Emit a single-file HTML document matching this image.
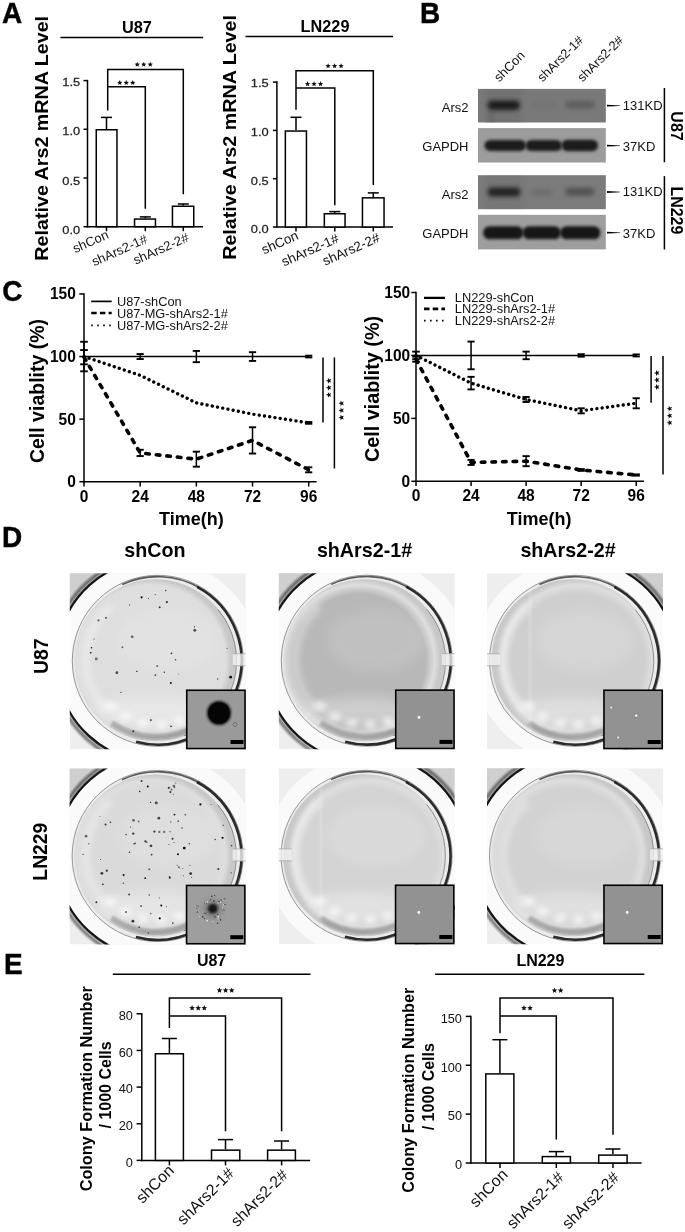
<!DOCTYPE html>
<html><head><meta charset="utf-8"><style>
html,body{margin:0;padding:0;background:#fff;}
svg{display:block;will-change:transform;}
text{font-family:"Liberation Sans",sans-serif;}
</style></head><body>
<svg width="685" height="1232" viewBox="0 0 685 1232">
<rect width="685" height="1232" fill="#fff"/>
<text transform="translate(2,23.2) scale(1,1.08)" font-size="28" font-weight="bold" text-anchor="start" fill="#000" stroke="#000" stroke-width="0.4">A</text>
<text x="136.9" y="32.5" font-size="16.3" font-weight="bold" text-anchor="middle" fill="#000" >U87</text>
<line x1="60.4" y1="37.4" x2="203.2" y2="37.4" stroke="#000" stroke-width="1.5" />
<text transform="translate(47.7,138.3) rotate(-90) scale(1.037,1)" font-size="19" font-weight="bold" text-anchor="middle" fill="#000" >Relative Ars2 mRNA Level</text>
<line x1="87.5" y1="79.85" x2="87.5" y2="227.45" stroke="#000" stroke-width="1.5" />
<line x1="83.5" y1="226.7" x2="87.5" y2="226.7" stroke="#000" stroke-width="1.5" />
<text transform="translate(80.2,233.65) scale(1.09,1)" font-size="11.8" font-weight="normal" text-anchor="end" fill="#222" stroke="#222" stroke-width="0.25">0.0</text>
<line x1="83.5" y1="178" x2="87.5" y2="178" stroke="#000" stroke-width="1.5" />
<text transform="translate(80.2,185.1) scale(1.09,1)" font-size="11.8" font-weight="normal" text-anchor="end" fill="#222" stroke="#222" stroke-width="0.25">0.5</text>
<line x1="83.5" y1="129.3" x2="87.5" y2="129.3" stroke="#000" stroke-width="1.5" />
<text transform="translate(80.2,134.95) scale(1.09,1)" font-size="11.8" font-weight="normal" text-anchor="end" fill="#222" stroke="#222" stroke-width="0.25">1.0</text>
<line x1="83.5" y1="80.6" x2="87.5" y2="80.6" stroke="#000" stroke-width="1.5" />
<text transform="translate(80.2,86.15) scale(1.09,1)" font-size="11.8" font-weight="normal" text-anchor="end" fill="#222" stroke="#222" stroke-width="0.25">1.5</text>
<line x1="86.75" y1="226.7" x2="203" y2="226.7" stroke="#000" stroke-width="1.5" />
<line x1="106.5" y1="226.7" x2="106.5" y2="231.2" stroke="#000" stroke-width="1.5" />
<line x1="145.3" y1="226.7" x2="145.3" y2="231.2" stroke="#000" stroke-width="1.5" />
<line x1="183.3" y1="226.7" x2="183.3" y2="231.2" stroke="#000" stroke-width="1.5" />
<rect x="96.25" y="129.75" width="20.7" height="96.95" fill="#fff" stroke="#000" stroke-width="1.5"/>
<rect x="134.55" y="219.05" width="20.9" height="7.65" fill="#fff" stroke="#000" stroke-width="1.5"/>
<rect x="172.45" y="206.25" width="21.3" height="20.45" fill="#fff" stroke="#000" stroke-width="1.5"/>
<line x1="106.5" y1="129" x2="106.5" y2="117.4" stroke="#000" stroke-width="1.5" />
<line x1="101" y1="117.4" x2="112" y2="117.4" stroke="#000" stroke-width="1.5" />
<line x1="145.3" y1="218.3" x2="145.3" y2="216.9" stroke="#000" stroke-width="1.5" />
<line x1="139.8" y1="216.9" x2="150.8" y2="216.9" stroke="#000" stroke-width="1.5" />
<line x1="183.3" y1="205.5" x2="183.3" y2="204" stroke="#000" stroke-width="1.5" />
<line x1="177.8" y1="204" x2="188.8" y2="204" stroke="#000" stroke-width="1.5" />
<polyline points="107.7,110.4 107.7,69.6 183.3,69.6 183.3,194.3" fill="none" stroke="#000" stroke-width="1.5" />
<polyline points="107.7,86.7 145.3,86.7 145.3,208.8" fill="none" stroke="#000" stroke-width="1.5" />
<polygon points="119.75,80 120.49,81.78 122.41,81.93 120.95,83.19 121.4,85.07 119.75,84.06 118.1,85.07 118.55,83.19 117.09,81.93 119.01,81.78" fill="#111"/>
<polygon points="126.25,80 126.99,81.78 128.91,81.93 127.45,83.19 127.9,85.07 126.25,84.06 124.6,85.07 125.05,83.19 123.59,81.93 125.51,81.78" fill="#111"/>
<polygon points="132.75,80 133.49,81.78 135.41,81.93 133.95,83.19 134.4,85.07 132.75,84.06 131.1,85.07 131.55,83.19 130.09,81.93 132.01,81.78" fill="#111"/>
<polygon points="137.25,61.8 137.99,63.58 139.91,63.73 138.45,64.99 138.9,66.87 137.25,65.86 135.6,66.87 136.05,64.99 134.59,63.73 136.51,63.58" fill="#111"/>
<polygon points="143.75,61.8 144.49,63.58 146.41,63.73 144.95,64.99 145.4,66.87 143.75,65.86 142.1,66.87 142.55,64.99 141.09,63.73 143.01,63.58" fill="#111"/>
<polygon points="150.25,61.8 150.99,63.58 152.91,63.73 151.45,64.99 151.9,66.87 150.25,65.86 148.6,66.87 149.05,64.99 147.59,63.73 149.51,63.58" fill="#111"/>
<text transform="translate(109.5,237.9) rotate(-24)" font-size="13" font-weight="normal" text-anchor="end" fill="#111" >shCon</text>
<text transform="translate(148.3,242.2) rotate(-24)" font-size="13" font-weight="normal" text-anchor="end" fill="#111" >shArs2-1#</text>
<text transform="translate(189.8,240.7) rotate(-24)" font-size="13" font-weight="normal" text-anchor="end" fill="#111" >shArs2-2#</text>
<text x="325" y="31.6" font-size="16.3" font-weight="bold" text-anchor="middle" fill="#000" >LN229</text>
<line x1="245.5" y1="36.6" x2="393" y2="36.6" stroke="#000" stroke-width="1.5" />
<text transform="translate(236,137.4) rotate(-90) scale(1.037,1)" font-size="19" font-weight="bold" text-anchor="middle" fill="#000" >Relative Ars2 mRNA Level</text>
<line x1="276.9" y1="81.35" x2="276.9" y2="227.75" stroke="#000" stroke-width="1.5" />
<line x1="272.9" y1="227" x2="276.9" y2="227" stroke="#000" stroke-width="1.5" />
<text transform="translate(268.7,232.85) scale(1.09,1)" font-size="11.8" font-weight="normal" text-anchor="end" fill="#222" stroke="#222" stroke-width="0.25">0.0</text>
<line x1="272.9" y1="178.7" x2="276.9" y2="178.7" stroke="#000" stroke-width="1.5" />
<text transform="translate(268.7,184.85) scale(1.09,1)" font-size="11.8" font-weight="normal" text-anchor="end" fill="#222" stroke="#222" stroke-width="0.25">0.5</text>
<line x1="272.9" y1="130.4" x2="276.9" y2="130.4" stroke="#000" stroke-width="1.5" />
<text transform="translate(268.7,135.75) scale(1.09,1)" font-size="11.8" font-weight="normal" text-anchor="end" fill="#222" stroke="#222" stroke-width="0.25">1.0</text>
<line x1="272.9" y1="82.1" x2="276.9" y2="82.1" stroke="#000" stroke-width="1.5" />
<text transform="translate(268.7,87.05) scale(1.09,1)" font-size="11.8" font-weight="normal" text-anchor="end" fill="#222" stroke="#222" stroke-width="0.25">1.5</text>
<line x1="276.15" y1="227" x2="393" y2="227" stroke="#000" stroke-width="1.5" />
<line x1="296" y1="227" x2="296" y2="231.5" stroke="#000" stroke-width="1.5" />
<line x1="334.8" y1="227" x2="334.8" y2="231.5" stroke="#000" stroke-width="1.5" />
<line x1="373.3" y1="227" x2="373.3" y2="231.5" stroke="#000" stroke-width="1.5" />
<rect x="285.35" y="131.05" width="21.1" height="95.95" fill="#fff" stroke="#000" stroke-width="1.5"/>
<rect x="324.35" y="213.75" width="20.7" height="13.25" fill="#fff" stroke="#000" stroke-width="1.5"/>
<rect x="362.45" y="197.85" width="21.6" height="29.15" fill="#fff" stroke="#000" stroke-width="1.5"/>
<line x1="296" y1="130.3" x2="296" y2="117.3" stroke="#000" stroke-width="1.5" />
<line x1="290.5" y1="117.3" x2="301.5" y2="117.3" stroke="#000" stroke-width="1.5" />
<line x1="334.8" y1="213" x2="334.8" y2="211.6" stroke="#000" stroke-width="1.5" />
<line x1="329.3" y1="211.6" x2="340.3" y2="211.6" stroke="#000" stroke-width="1.5" />
<line x1="373.3" y1="197.1" x2="373.3" y2="192.9" stroke="#000" stroke-width="1.5" />
<line x1="367.8" y1="192.9" x2="378.8" y2="192.9" stroke="#000" stroke-width="1.5" />
<polyline points="296,109.8 296,70.8 373.3,70.8 373.3,185" fill="none" stroke="#000" stroke-width="1.5" />
<polyline points="296,88 334.8,88 334.8,205.3" fill="none" stroke="#000" stroke-width="1.5" />
<polygon points="307.55,81.1 308.29,82.88 310.21,83.03 308.75,84.29 309.2,86.17 307.55,85.16 305.9,86.17 306.35,84.29 304.89,83.03 306.81,82.88" fill="#111"/>
<polygon points="314.05,81.1 314.79,82.88 316.71,83.03 315.25,84.29 315.7,86.17 314.05,85.16 312.4,86.17 312.85,84.29 311.39,83.03 313.31,82.88" fill="#111"/>
<polygon points="320.55,81.1 321.29,82.88 323.21,83.03 321.75,84.29 322.2,86.17 320.55,85.16 318.9,86.17 319.35,84.29 317.89,83.03 319.81,82.88" fill="#111"/>
<polygon points="328.1,63.2 328.84,64.98 330.76,65.13 329.3,66.39 329.75,68.27 328.1,67.26 326.45,68.27 326.9,66.39 325.44,65.13 327.36,64.98" fill="#111"/>
<polygon points="334.6,63.2 335.34,64.98 337.26,65.13 335.8,66.39 336.25,68.27 334.6,67.26 332.95,68.27 333.4,66.39 331.94,65.13 333.86,64.98" fill="#111"/>
<polygon points="341.1,63.2 341.84,64.98 343.76,65.13 342.3,66.39 342.75,68.27 341.1,67.26 339.45,68.27 339.9,66.39 338.44,65.13 340.36,64.98" fill="#111"/>
<text transform="translate(299.4,238.8) rotate(-24)" font-size="13.4" font-weight="normal" text-anchor="end" fill="#111" >shCon</text>
<text transform="translate(339.8,241.6) rotate(-24)" font-size="13.4" font-weight="normal" text-anchor="end" fill="#111" >shArs2-1#</text>
<text transform="translate(380.8,241) rotate(-24)" font-size="13.4" font-weight="normal" text-anchor="end" fill="#111" >shArs2-2#</text>
<text transform="translate(420,22.9) scale(1,1.08)" font-size="28" font-weight="bold" text-anchor="start" fill="#000" stroke="#000" stroke-width="0.4">B</text>
<text transform="translate(499.3,82.6) rotate(-45)" font-size="12.9" font-weight="normal" text-anchor="start" fill="#111" >shCon</text>
<text transform="translate(542.5,82.6) rotate(-45)" font-size="12.9" font-weight="normal" text-anchor="start" fill="#111" >shArs2-1#</text>
<text transform="translate(582.5,82.6) rotate(-45)" font-size="12.9" font-weight="normal" text-anchor="start" fill="#111" >shArs2-2#</text>
<defs><filter id="bl" x="-50%" y="-80%" width="200%" height="260%"><feGaussianBlur stdDeviation="2.2"/></filter><filter id="bl2" x="-50%" y="-80%" width="200%" height="260%"><feGaussianBlur stdDeviation="1.4"/></filter><filter id="bl3" x="-50%" y="-80%" width="200%" height="260%"><feGaussianBlur stdDeviation="1.9"/></filter></defs>
<rect x="478" y="88.9" width="127.8" height="33.6" fill="#797979"/>
<rect x="478" y="128.1" width="127.8" height="34.4" fill="#9c9c9c"/>
<rect x="478" y="175.2" width="127.8" height="34" fill="#7b7b7b"/>
<rect x="478" y="214.8" width="127.8" height="34.6" fill="#9e9e9e"/>
<clipPath id="cb1"><rect x="478" y="88.9" width="127.8" height="33.6"/></clipPath><clipPath id="cb3"><rect x="478" y="175.2" width="127.8" height="34"/></clipPath>
<g clip-path="url(#cb1)"><rect x="486" y="86" width="36" height="40" fill="#6a6a6a" opacity="0.4" filter="url(#bl)"/><rect x="488" y="110" width="6" height="14" fill="#555" opacity="0.3" filter="url(#bl)"/></g>
<g clip-path="url(#cb3)"><rect x="486" y="172" width="36" height="40" fill="#6e6e6e" opacity="0.3" filter="url(#bl)"/></g>
<rect x="487.5" y="100.45" width="32.5" height="9.5" rx="4.75" fill="#1e1e1e" opacity="1.0" filter="url(#bl3)"/>
<rect x="531" y="102.5" width="25" height="5" rx="2.5" fill="#6c6c6c" opacity="0.5" filter="url(#bl)"/>
<rect x="565.5" y="100.8" width="29" height="8" rx="4" fill="#575757" opacity="0.75" filter="url(#bl3)"/>
<rect x="484.5" y="139.9" width="41.5" height="11" rx="5.5" fill="#1e1e1e" opacity="1.0" filter="url(#bl2)"/>
<rect x="525.5" y="140.1" width="36.5" height="11" rx="5.5" fill="#1e1e1e" opacity="1.0" filter="url(#bl2)"/>
<rect x="561.5" y="139.65" width="36.5" height="11.5" rx="5.75" fill="#1a1a1a" opacity="1.0" filter="url(#bl2)"/>
<rect x="487.5" y="187.35" width="33" height="9.5" rx="4.75" fill="#262626" opacity="1.0" filter="url(#bl3)"/>
<rect x="532" y="189.8" width="20" height="5" rx="2.5" fill="#646464" opacity="0.7" filter="url(#bl)"/>
<rect x="565.5" y="187.8" width="28.5" height="8" rx="4" fill="#4a4a4a" opacity="0.8" filter="url(#bl3)"/>
<rect x="483" y="226.3" width="40.5" height="13" rx="6.5" fill="#181818" opacity="1.0" filter="url(#bl2)"/>
<rect x="522.5" y="226.3" width="38.5" height="13" rx="6.5" fill="#181818" opacity="1.0" filter="url(#bl2)"/>
<rect x="560" y="226.3" width="40.5" height="13" rx="6.5" fill="#181818" opacity="1.0" filter="url(#bl2)"/>
<text x="468.5" y="111.5" font-size="13" font-weight="normal" text-anchor="end" fill="#111" >Ars2</text>
<text x="468.5" y="150.5" font-size="13" font-weight="normal" text-anchor="end" fill="#111" >GAPDH</text>
<text x="468.5" y="198.8" font-size="13" font-weight="normal" text-anchor="end" fill="#111" >Ars2</text>
<text x="468.5" y="237.9" font-size="13" font-weight="normal" text-anchor="end" fill="#111" >GAPDH</text>
<path d="M607,104.8 L620,105.4 L620,106 L607,106.6 Z" fill="#000"/>
<text x="622.8" y="109.8" font-size="13" font-weight="normal" text-anchor="start" fill="#111" >131KD</text>
<path d="M607,144.8 L620,145.4 L620,146 L607,146.6 Z" fill="#000"/>
<text x="622.8" y="151" font-size="13" font-weight="normal" text-anchor="start" fill="#111" >37KD</text>
<path d="M607,191.1 L620,191.7 L620,192.3 L607,192.9 Z" fill="#000"/>
<text x="622.8" y="196.1" font-size="13" font-weight="normal" text-anchor="start" fill="#111" >131KD</text>
<path d="M607,231.8 L620,232.4 L620,233 L607,233.6 Z" fill="#000"/>
<text x="622.8" y="237.5" font-size="13" font-weight="normal" text-anchor="start" fill="#111" >37KD</text>
<line x1="664.4" y1="88" x2="664.4" y2="162.3" stroke="#000" stroke-width="1.5" />
<line x1="664.4" y1="176.1" x2="664.4" y2="249.5" stroke="#000" stroke-width="1.5" />
<text transform="translate(670.6,126) rotate(90)" font-size="16" font-weight="bold" text-anchor="middle" fill="#000" >U87</text>
<text transform="translate(670.6,210.4) rotate(90)" font-size="16" font-weight="bold" text-anchor="middle" fill="#000" >LN229</text>
<text transform="translate(2.3,301.3) scale(1,1.08)" font-size="28" font-weight="bold" text-anchor="start" fill="#000" stroke="#000" stroke-width="0.4">C</text>
<line x1="84" y1="293.22" x2="84" y2="482.45" stroke="#000" stroke-width="1.5" />
<line x1="79.3" y1="481.7" x2="84" y2="481.7" stroke="#000" stroke-width="1.5" />
<text transform="translate(75.8,487.1) scale(1,1.1)" font-size="15.5" font-weight="bold" text-anchor="end" fill="#000" >0</text>
<line x1="79.3" y1="419.12" x2="84" y2="419.12" stroke="#000" stroke-width="1.5" />
<text transform="translate(75.8,424.52) scale(1,1.1)" font-size="15.5" font-weight="bold" text-anchor="end" fill="#000" >50</text>
<line x1="79.3" y1="356.55" x2="84" y2="356.55" stroke="#000" stroke-width="1.5" />
<text transform="translate(75.8,361.95) scale(1,1.1)" font-size="15.5" font-weight="bold" text-anchor="end" fill="#000" >100</text>
<line x1="79.3" y1="293.97" x2="84" y2="293.97" stroke="#000" stroke-width="1.5" />
<text transform="translate(75.8,299.37) scale(1,1.1)" font-size="15.5" font-weight="bold" text-anchor="end" fill="#000" >150</text>
<line x1="83.25" y1="481.7" x2="316.6" y2="481.7" stroke="#000" stroke-width="1.5" />
<line x1="84" y1="481.7" x2="84" y2="486.5" stroke="#000" stroke-width="1.5" />
<text transform="translate(84,501.7) scale(1,1.1)" font-size="15.5" font-weight="bold" text-anchor="middle" fill="#000" >0</text>
<line x1="140.17" y1="481.7" x2="140.17" y2="486.5" stroke="#000" stroke-width="1.5" />
<text transform="translate(140.17,501.7) scale(1,1.1)" font-size="15.5" font-weight="bold" text-anchor="middle" fill="#000" >24</text>
<line x1="196.35" y1="481.7" x2="196.35" y2="486.5" stroke="#000" stroke-width="1.5" />
<text transform="translate(196.35,501.7) scale(1,1.1)" font-size="15.5" font-weight="bold" text-anchor="middle" fill="#000" >48</text>
<line x1="252.52" y1="481.7" x2="252.52" y2="486.5" stroke="#000" stroke-width="1.5" />
<text transform="translate(252.52,501.7) scale(1,1.1)" font-size="15.5" font-weight="bold" text-anchor="middle" fill="#000" >72</text>
<line x1="308.7" y1="481.7" x2="308.7" y2="486.5" stroke="#000" stroke-width="1.5" />
<text transform="translate(308.7,501.7) scale(1,1.1)" font-size="15.5" font-weight="bold" text-anchor="middle" fill="#000" >96</text>
<text x="191.4" y="524.9" font-size="18" font-weight="bold" text-anchor="middle" fill="#000" >Time(h)</text>
<text transform="translate(44.4,391) rotate(-90)" font-size="19.5" font-weight="bold" text-anchor="middle" fill="#000" >Cell viablity (%)</text>
<line x1="91.2" y1="301.4" x2="111.7" y2="301.4" stroke="#000" stroke-width="1.7" />
<text x="116.9" y="305.9" font-size="12.8" font-weight="normal" text-anchor="start" fill="#111" >U87-shCon</text>
<line x1="91.2" y1="313" x2="111.7" y2="313" stroke="#000" stroke-width="2.4" stroke-dasharray="5.5,3.2"/>
<text x="116.9" y="317.5" font-size="12.8" font-weight="normal" text-anchor="start" fill="#111" >U87-MG-shArs2-1#</text>
<line x1="91.2" y1="325.3" x2="111.7" y2="325.3" stroke="#000" stroke-width="1.7" stroke-dasharray="1.6,4.4"/>
<text x="116.9" y="329.8" font-size="12.8" font-weight="normal" text-anchor="start" fill="#111" >U87-MG-shArs2-2#</text>
<polyline points="84,356.55 140.17,356.55 196.35,356.55 252.52,356.55 308.7,356.55" fill="none" stroke="#000" stroke-width="1.6"  stroke-linejoin="round"/>
<line x1="84" y1="341.78" x2="84" y2="371.32" stroke="#000" stroke-width="1.5" />
<line x1="80.2" y1="341.78" x2="87.8" y2="341.78" stroke="#000" stroke-width="1.9" />
<line x1="80.2" y1="371.32" x2="87.8" y2="371.32" stroke="#000" stroke-width="1.9" />
<line x1="140.17" y1="354.05" x2="140.17" y2="359.05" stroke="#000" stroke-width="1.5" />
<line x1="136.57" y1="354.05" x2="143.77" y2="354.05" stroke="#000" stroke-width="1.9" />
<line x1="136.57" y1="359.05" x2="143.77" y2="359.05" stroke="#000" stroke-width="1.9" />
<line x1="196.35" y1="350.92" x2="196.35" y2="362.18" stroke="#000" stroke-width="1.5" />
<line x1="192.75" y1="350.92" x2="199.95" y2="350.92" stroke="#000" stroke-width="1.9" />
<line x1="192.75" y1="362.18" x2="199.95" y2="362.18" stroke="#000" stroke-width="1.9" />
<line x1="252.52" y1="352.17" x2="252.52" y2="360.93" stroke="#000" stroke-width="1.5" />
<line x1="248.92" y1="352.17" x2="256.12" y2="352.17" stroke="#000" stroke-width="1.9" />
<line x1="248.92" y1="360.93" x2="256.12" y2="360.93" stroke="#000" stroke-width="1.9" />
<line x1="308.7" y1="355.67" x2="308.7" y2="357.43" stroke="#000" stroke-width="1.5" />
<line x1="305.1" y1="355.67" x2="312.3" y2="355.67" stroke="#000" stroke-width="1.9" />
<line x1="305.1" y1="357.43" x2="312.3" y2="357.43" stroke="#000" stroke-width="1.9" />
<polyline points="84,357.18 140.17,452.92 196.35,459.17 252.52,440.4 308.7,469.81" fill="none" stroke="#000" stroke-width="3.6" stroke-dasharray="3.6,7" stroke-linecap="round" stroke-linejoin="round"/>
<line x1="84" y1="350.04" x2="84" y2="364.31" stroke="#000" stroke-width="1.5" />
<line x1="80.2" y1="350.04" x2="87.8" y2="350.04" stroke="#000" stroke-width="1.9" />
<line x1="80.2" y1="364.31" x2="87.8" y2="364.31" stroke="#000" stroke-width="1.9" />
<line x1="140.17" y1="449.79" x2="140.17" y2="456.04" stroke="#000" stroke-width="1.5" />
<line x1="136.57" y1="449.79" x2="143.77" y2="449.79" stroke="#000" stroke-width="1.9" />
<line x1="136.57" y1="456.04" x2="143.77" y2="456.04" stroke="#000" stroke-width="1.9" />
<line x1="196.35" y1="451.66" x2="196.35" y2="466.68" stroke="#000" stroke-width="1.5" />
<line x1="192.75" y1="451.66" x2="199.95" y2="451.66" stroke="#000" stroke-width="1.9" />
<line x1="192.75" y1="466.68" x2="199.95" y2="466.68" stroke="#000" stroke-width="1.9" />
<line x1="252.52" y1="427.26" x2="252.52" y2="453.54" stroke="#000" stroke-width="1.5" />
<line x1="248.92" y1="427.26" x2="256.12" y2="427.26" stroke="#000" stroke-width="1.9" />
<line x1="248.92" y1="453.54" x2="256.12" y2="453.54" stroke="#000" stroke-width="1.9" />
<line x1="308.7" y1="467.31" x2="308.7" y2="472.31" stroke="#000" stroke-width="1.5" />
<line x1="305.1" y1="467.31" x2="312.3" y2="467.31" stroke="#000" stroke-width="1.9" />
<line x1="305.1" y1="472.31" x2="312.3" y2="472.31" stroke="#000" stroke-width="1.9" />
<polyline points="84,356.55 140.17,375.32 196.35,402.86 252.52,414.12 308.7,422.88" fill="none" stroke="#000" stroke-width="3.4" stroke-dasharray="0.01,5.3" stroke-linecap="round" stroke-linejoin="round"/>
<line x1="308.7" y1="422" x2="308.7" y2="423.76" stroke="#000" stroke-width="1.5" />
<line x1="305.1" y1="422" x2="312.3" y2="422" stroke="#000" stroke-width="1.9" />
<line x1="305.1" y1="423.76" x2="312.3" y2="423.76" stroke="#000" stroke-width="1.9" />
<line x1="323" y1="357.5" x2="323" y2="422.5" stroke="#000" stroke-width="1.5" />
<polygon points="325.8,380.75 327.9,380.02 327.94,377.8 329.28,379.57 331.41,378.93 330.14,380.75 331.41,382.57 329.28,381.93 327.94,383.7 327.9,381.48" fill="#111"/>
<polygon points="325.8,387.8 327.9,387.07 327.94,384.85 329.28,386.62 331.41,385.98 330.14,387.8 331.41,389.62 329.28,388.98 327.94,390.75 327.9,388.53" fill="#111"/>
<polygon points="325.8,394.85 327.9,394.12 327.94,391.9 329.28,393.67 331.41,393.03 330.14,394.85 331.41,396.67 329.28,396.03 327.94,397.8 327.9,395.58" fill="#111"/>
<line x1="334.4" y1="357.5" x2="334.4" y2="468.5" stroke="#000" stroke-width="1.5" />
<polygon points="338.4,403.35 340.5,402.62 340.54,400.4 341.88,402.17 344.01,401.53 342.74,403.35 344.01,405.17 341.88,404.53 340.54,406.3 340.5,404.08" fill="#111"/>
<polygon points="338.4,410.4 340.5,409.67 340.54,407.45 341.88,409.22 344.01,408.58 342.74,410.4 344.01,412.22 341.88,411.58 340.54,413.35 340.5,411.13" fill="#111"/>
<polygon points="338.4,417.45 340.5,416.72 340.54,414.5 341.88,416.27 344.01,415.63 342.74,417.45 344.01,419.27 341.88,418.63 340.54,420.4 340.5,418.18" fill="#111"/>
<line x1="416" y1="291.75" x2="416" y2="482.05" stroke="#000" stroke-width="1.5" />
<line x1="411.3" y1="481.3" x2="416" y2="481.3" stroke="#000" stroke-width="1.5" />
<text transform="translate(410.2,486.7) scale(1,1.1)" font-size="15.5" font-weight="bold" text-anchor="end" fill="#000" >0</text>
<line x1="411.3" y1="418.37" x2="416" y2="418.37" stroke="#000" stroke-width="1.5" />
<text transform="translate(410.2,423.76) scale(1,1.1)" font-size="15.5" font-weight="bold" text-anchor="end" fill="#000" >50</text>
<line x1="411.3" y1="355.43" x2="416" y2="355.43" stroke="#000" stroke-width="1.5" />
<text transform="translate(410.2,360.83) scale(1,1.1)" font-size="15.5" font-weight="bold" text-anchor="end" fill="#000" >100</text>
<line x1="411.3" y1="292.5" x2="416" y2="292.5" stroke="#000" stroke-width="1.5" />
<text transform="translate(410.2,297.89) scale(1,1.1)" font-size="15.5" font-weight="bold" text-anchor="end" fill="#000" >150</text>
<line x1="415.25" y1="481.3" x2="644" y2="481.3" stroke="#000" stroke-width="1.5" />
<line x1="416" y1="481.3" x2="416" y2="486.1" stroke="#000" stroke-width="1.5" />
<text transform="translate(416,501.3) scale(1,1.1)" font-size="15.5" font-weight="bold" text-anchor="middle" fill="#000" >0</text>
<line x1="471.06" y1="481.3" x2="471.06" y2="486.1" stroke="#000" stroke-width="1.5" />
<text transform="translate(471.06,501.3) scale(1,1.1)" font-size="15.5" font-weight="bold" text-anchor="middle" fill="#000" >24</text>
<line x1="526.11" y1="481.3" x2="526.11" y2="486.1" stroke="#000" stroke-width="1.5" />
<text transform="translate(526.11,501.3) scale(1,1.1)" font-size="15.5" font-weight="bold" text-anchor="middle" fill="#000" >48</text>
<line x1="581.17" y1="481.3" x2="581.17" y2="486.1" stroke="#000" stroke-width="1.5" />
<text transform="translate(581.17,501.3) scale(1,1.1)" font-size="15.5" font-weight="bold" text-anchor="middle" fill="#000" >72</text>
<line x1="636.22" y1="481.3" x2="636.22" y2="486.1" stroke="#000" stroke-width="1.5" />
<text transform="translate(636.22,501.3) scale(1,1.1)" font-size="15.5" font-weight="bold" text-anchor="middle" fill="#000" >96</text>
<text x="539.2" y="524.5" font-size="18" font-weight="bold" text-anchor="middle" fill="#000" >Time(h)</text>
<text transform="translate(378.7,389) rotate(-90)" font-size="19.8" font-weight="bold" text-anchor="middle" fill="#000" >Cell viablity (%)</text>
<line x1="424" y1="297.9" x2="445" y2="297.9" stroke="#000" stroke-width="2.3" />
<text x="454.8" y="302.4" font-size="12.8" font-weight="normal" text-anchor="start" fill="#111" >LN229-shCon</text>
<line x1="424" y1="308.9" x2="445" y2="308.9" stroke="#000" stroke-width="2.6" stroke-dasharray="5.5,3.2"/>
<text x="454.8" y="313.4" font-size="12.8" font-weight="normal" text-anchor="start" fill="#111" >LN229-shArs2-1#</text>
<line x1="424" y1="320.7" x2="445" y2="320.7" stroke="#000" stroke-width="1.8" stroke-dasharray="1.6,4.4"/>
<text x="454.8" y="325.2" font-size="12.8" font-weight="normal" text-anchor="start" fill="#111" >LN229-shArs2-2#</text>
<polyline points="416,355.43 471.06,355.43 526.11,355.43 581.17,355.43 636.22,355.43" fill="none" stroke="#000" stroke-width="1.6"  stroke-linejoin="round"/>
<line x1="416" y1="351.65" x2="416" y2="359.21" stroke="#000" stroke-width="1.5" />
<line x1="412.2" y1="351.65" x2="419.8" y2="351.65" stroke="#000" stroke-width="1.9" />
<line x1="412.2" y1="359.21" x2="419.8" y2="359.21" stroke="#000" stroke-width="1.9" />
<line x1="471.06" y1="341.58" x2="471.06" y2="369.28" stroke="#000" stroke-width="1.5" />
<line x1="467.46" y1="341.58" x2="474.66" y2="341.58" stroke="#000" stroke-width="1.9" />
<line x1="467.46" y1="369.28" x2="474.66" y2="369.28" stroke="#000" stroke-width="1.9" />
<line x1="526.11" y1="351.65" x2="526.11" y2="359.21" stroke="#000" stroke-width="1.5" />
<line x1="522.51" y1="351.65" x2="529.71" y2="351.65" stroke="#000" stroke-width="1.9" />
<line x1="522.51" y1="359.21" x2="529.71" y2="359.21" stroke="#000" stroke-width="1.9" />
<line x1="581.17" y1="354.17" x2="581.17" y2="356.69" stroke="#000" stroke-width="1.5" />
<line x1="577.57" y1="354.17" x2="584.77" y2="354.17" stroke="#000" stroke-width="1.9" />
<line x1="577.57" y1="356.69" x2="584.77" y2="356.69" stroke="#000" stroke-width="1.9" />
<line x1="636.22" y1="354.42" x2="636.22" y2="356.44" stroke="#000" stroke-width="1.5" />
<line x1="632.62" y1="354.42" x2="639.82" y2="354.42" stroke="#000" stroke-width="1.9" />
<line x1="632.62" y1="356.44" x2="639.82" y2="356.44" stroke="#000" stroke-width="1.9" />
<polyline points="416,359.21 471.06,462.42 526.11,461.16 581.17,469.97 636.22,475.01" fill="none" stroke="#000" stroke-width="3.6" stroke-dasharray="3.6,7" stroke-linecap="round" stroke-linejoin="round"/>
<line x1="416" y1="356.69" x2="416" y2="361.72" stroke="#000" stroke-width="1.5" />
<line x1="412.2" y1="356.69" x2="419.8" y2="356.69" stroke="#000" stroke-width="1.9" />
<line x1="412.2" y1="361.72" x2="419.8" y2="361.72" stroke="#000" stroke-width="1.9" />
<line x1="471.06" y1="459.9" x2="471.06" y2="464.94" stroke="#000" stroke-width="1.5" />
<line x1="467.46" y1="459.9" x2="474.66" y2="459.9" stroke="#000" stroke-width="1.9" />
<line x1="467.46" y1="464.94" x2="474.66" y2="464.94" stroke="#000" stroke-width="1.9" />
<line x1="526.11" y1="456.13" x2="526.11" y2="466.2" stroke="#000" stroke-width="1.5" />
<line x1="522.51" y1="456.13" x2="529.71" y2="456.13" stroke="#000" stroke-width="1.9" />
<line x1="522.51" y1="466.2" x2="529.71" y2="466.2" stroke="#000" stroke-width="1.9" />
<line x1="581.17" y1="469.09" x2="581.17" y2="470.85" stroke="#000" stroke-width="1.5" />
<line x1="577.57" y1="469.09" x2="584.77" y2="469.09" stroke="#000" stroke-width="1.9" />
<line x1="577.57" y1="470.85" x2="584.77" y2="470.85" stroke="#000" stroke-width="1.9" />
<line x1="636.22" y1="474.38" x2="636.22" y2="475.64" stroke="#000" stroke-width="1.5" />
<line x1="632.62" y1="474.38" x2="639.82" y2="474.38" stroke="#000" stroke-width="1.9" />
<line x1="632.62" y1="475.64" x2="639.82" y2="475.64" stroke="#000" stroke-width="1.9" />
<polyline points="416,355.43 471.06,383.12 526.11,399.48 581.17,410.81 636.22,403.26" fill="none" stroke="#000" stroke-width="3.4" stroke-dasharray="0.01,5.3" stroke-linecap="round" stroke-linejoin="round"/>
<line x1="471.06" y1="376.83" x2="471.06" y2="389.41" stroke="#000" stroke-width="1.5" />
<line x1="467.46" y1="376.83" x2="474.66" y2="376.83" stroke="#000" stroke-width="1.9" />
<line x1="467.46" y1="389.41" x2="474.66" y2="389.41" stroke="#000" stroke-width="1.9" />
<line x1="526.11" y1="396.97" x2="526.11" y2="402" stroke="#000" stroke-width="1.5" />
<line x1="522.51" y1="396.97" x2="529.71" y2="396.97" stroke="#000" stroke-width="1.9" />
<line x1="522.51" y1="402" x2="529.71" y2="402" stroke="#000" stroke-width="1.9" />
<line x1="581.17" y1="408.3" x2="581.17" y2="413.33" stroke="#000" stroke-width="1.5" />
<line x1="577.57" y1="408.3" x2="584.77" y2="408.3" stroke="#000" stroke-width="1.9" />
<line x1="577.57" y1="413.33" x2="584.77" y2="413.33" stroke="#000" stroke-width="1.9" />
<line x1="636.22" y1="398.23" x2="636.22" y2="408.3" stroke="#000" stroke-width="1.5" />
<line x1="632.62" y1="398.23" x2="639.82" y2="398.23" stroke="#000" stroke-width="1.9" />
<line x1="632.62" y1="408.3" x2="639.82" y2="408.3" stroke="#000" stroke-width="1.9" />
<line x1="651.1" y1="356.1" x2="651.1" y2="402.7" stroke="#000" stroke-width="1.5" />
<polygon points="653.9,372.95 656,372.22 656.04,370 657.38,371.77 659.51,371.13 658.24,372.95 659.51,374.77 657.38,374.13 656.04,375.9 656,373.68" fill="#111"/>
<polygon points="653.9,380 656,379.27 656.04,377.05 657.38,378.82 659.51,378.18 658.24,380 659.51,381.82 657.38,381.18 656.04,382.95 656,380.73" fill="#111"/>
<polygon points="653.9,387.05 656,386.32 656.04,384.1 657.38,385.87 659.51,385.23 658.24,387.05 659.51,388.87 657.38,388.23 656.04,390 656,387.78" fill="#111"/>
<line x1="663" y1="356.1" x2="663" y2="474.6" stroke="#000" stroke-width="1.5" />
<polygon points="666.6,408.65 668.7,407.92 668.74,405.7 670.08,407.47 672.21,406.83 670.94,408.65 672.21,410.47 670.08,409.83 668.74,411.6 668.7,409.38" fill="#111"/>
<polygon points="666.6,415.7 668.7,414.97 668.74,412.75 670.08,414.52 672.21,413.88 670.94,415.7 672.21,417.52 670.08,416.88 668.74,418.65 668.7,416.43" fill="#111"/>
<polygon points="666.6,422.75 668.7,422.02 668.74,419.8 670.08,421.57 672.21,420.93 670.94,422.75 672.21,424.57 670.08,423.93 668.74,425.7 668.7,423.48" fill="#111"/>
<text transform="translate(2,547.2) scale(1,1.08)" font-size="28" font-weight="bold" text-anchor="start" fill="#000" stroke="#000" stroke-width="0.4">D</text>
<text transform="translate(154.9,556.6) scale(1,1.06)" font-size="19.7" font-weight="bold" text-anchor="middle" fill="#000" >shCon</text>
<text transform="translate(364.5,556.6) scale(1,1.06)" font-size="19.7" font-weight="bold" text-anchor="middle" fill="#000" >shArs2-1#</text>
<text transform="translate(568,556.6) scale(1,1.06)" font-size="19.7" font-weight="bold" text-anchor="middle" fill="#000" >shArs2-2#</text>
<text transform="translate(48.4,656.3) rotate(-90) scale(1,1.08)" font-size="19.3" font-weight="bold" text-anchor="middle" fill="#000" >U87</text>
<text transform="translate(46.6,851.7) rotate(-90) scale(1,1.08)" font-size="19.3" font-weight="bold" text-anchor="middle" fill="#000" >LN229</text>
<defs>
<filter id="db1" x="-20%" y="-20%" width="140%" height="140%"><feGaussianBlur stdDeviation="1.2"/></filter>
<filter id="db3" x="-50%" y="-50%" width="200%" height="200%"><feGaussianBlur stdDeviation="3"/></filter>
<filter id="db6" x="-50%" y="-50%" width="200%" height="200%"><feGaussianBlur stdDeviation="6"/></filter>
<filter id="sp" x="-100%" y="-100%" width="300%" height="300%"><feGaussianBlur stdDeviation="0.5"/></filter>
</defs>
<clipPath id="dc0"><rect x="69.8" y="573.3" width="176" height="176"/></clipPath>
<radialGradient id="ig0" cx="0.47" cy="0.5" r="0.5"><stop offset="0" stop-color="#dedede"/><stop offset="0.82" stop-color="#dedede"/><stop offset="0.93" stop-color="#dedede"/><stop offset="1" stop-color="#c8c8c8"/></radialGradient>
<g clip-path="url(#dc0)">
<rect x="69.8" y="573.3" width="176" height="176" fill="#eeeeee"/>
<circle cx="69.8" cy="573.3" r="30" fill="#cfcfcf" filter="url(#db6)"/>
<circle cx="157.8" cy="660.8" r="101.5" fill="#fafafa"/>
<path d="M59.28,634.4 A102,102 0 0,1 143.6,559.79" fill="none" stroke="#111" stroke-width="2.4"/>
<path d="M55.89,633.49 A105.5,105.5 0 0,1 143.12,556.33" fill="none" stroke="#666" stroke-width="3.5" filter="url(#db1)"/>
<path d="M140.09,761.25 A102,102 0 0,1 59.28,687.2" fill="none" stroke="#111" stroke-width="2.4"/>
<path d="M139.48,764.7 A105.5,105.5 0 0,1 55.89,688.11" fill="none" stroke="#777" stroke-width="3.5" filter="url(#db1)"/>
<circle cx="157.8" cy="660.8" r="85.5" fill="#ebebeb" stroke="#8a8a8a" stroke-width="0.9"/>
<circle cx="155.3" cy="660.3" r="81" fill="url(#ig0)"/>
<path d="M122.22,584.49 A84.2,84.2 0 0,1 199.9,587.88" fill="none" stroke="#333" stroke-width="1.6" opacity="0.8"/>
<path d="M197.14,586.81 A83.8,83.8 0 0,1 136.11,741.74" fill="none" stroke="#1a1a1a" stroke-width="2.6" opacity="0.92"/>
<path d="M217.93,609.51 A79.8,79.8 0 0,1 184.09,735.79" fill="none" stroke="#555" stroke-width="1" opacity="0.6"/>
<path d="M194.3,726.48 A77,77 0 0,1 111.63,722.87" fill="none" stroke="#7a7a7a" stroke-width="6" opacity="0.55" filter="url(#db1)"/>
<path d="M106.3,709.3 A70,70 0 0,1 110.8,606.18" fill="none" stroke="#ffffff" stroke-width="8" opacity="0.35" filter="url(#db3)"/>
<ellipse cx="195.66" cy="713.23" rx="6" ry="3.5" fill="#ffffff" opacity="0.9" filter="url(#db3)"/>
<ellipse cx="179.29" cy="721.31" rx="6" ry="3.5" fill="#ffffff" opacity="0.9" filter="url(#db3)"/>
<ellipse cx="161.25" cy="724.71" rx="6" ry="3.5" fill="#ffffff" opacity="0.9" filter="url(#db3)"/>
<ellipse cx="142.95" cy="723.16" rx="6" ry="3.5" fill="#ffffff" opacity="0.9" filter="url(#db3)"/>
<ellipse cx="125.8" cy="716.78" rx="6" ry="3.5" fill="#ffffff" opacity="0.9" filter="url(#db3)"/>
<ellipse cx="111.13" cy="706.05" rx="6" ry="3.5" fill="#ffffff" opacity="0.9" filter="url(#db3)"/>
<ellipse cx="152.8" cy="710.8" rx="55" ry="14" fill="#ffffff" opacity="0.3" filter="url(#db6)"/>
<ellipse cx="167.8" cy="640.8" rx="50" ry="30" fill="#ffffff" opacity="0.12" filter="url(#db6)"/>
<rect x="232.8" y="653.8" width="13" height="12" fill="#f0f0f0" opacity="0.8"/>
<line x1="232.8" y1="653.8" x2="245.8" y2="653.8" stroke="#aaa" stroke-width="0.8"/>
<line x1="232.8" y1="665.8" x2="245.8" y2="665.8" stroke="#aaa" stroke-width="0.8"/>
<circle cx="129.61" cy="604.94" r="0.5" fill="#111" filter="url(#sp)"/>
<circle cx="171.05" cy="726.35" r="0.8" fill="#111" filter="url(#sp)"/>
<circle cx="91.55" cy="647.71" r="0.8" fill="#111" filter="url(#sp)"/>
<circle cx="165.97" cy="590.26" r="0.6" fill="#333" filter="url(#sp)"/>
<circle cx="178.7" cy="674.08" r="0.5" fill="#666" filter="url(#sp)"/>
<circle cx="166.87" cy="602.11" r="1.1" fill="#333" filter="url(#sp)"/>
<circle cx="164.31" cy="672.15" r="0.7" fill="#111" filter="url(#sp)"/>
<circle cx="170.86" cy="683.03" r="1" fill="#111" filter="url(#sp)"/>
<circle cx="165.44" cy="590.85" r="0.5" fill="#333" filter="url(#sp)"/>
<circle cx="157.23" cy="665.88" r="1" fill="#666" filter="url(#sp)"/>
<circle cx="171.49" cy="653.31" r="0.9" fill="#333" filter="url(#sp)"/>
<circle cx="116.86" cy="672.71" r="1.4" fill="#444" filter="url(#sp)"/>
<circle cx="194.51" cy="626.87" r="0.6" fill="#111" filter="url(#sp)"/>
<circle cx="159.71" cy="607.19" r="1" fill="#333" filter="url(#sp)"/>
<circle cx="227.12" cy="648.27" r="0.6" fill="#444" filter="url(#sp)"/>
<circle cx="132.22" cy="636.83" r="1.4" fill="#666" filter="url(#sp)"/>
<circle cx="120.99" cy="692.33" r="0.6" fill="#111" filter="url(#sp)"/>
<circle cx="194.79" cy="630.34" r="1.4" fill="#444" filter="url(#sp)"/>
<circle cx="133.32" cy="731.3" r="1" fill="#333" filter="url(#sp)"/>
<circle cx="175.55" cy="659.79" r="0.8" fill="#444" filter="url(#sp)"/>
<circle cx="98.49" cy="620.42" r="1.1" fill="#666" filter="url(#sp)"/>
<circle cx="90.69" cy="652.67" r="0.9" fill="#333" filter="url(#sp)"/>
<circle cx="122.35" cy="647.25" r="1" fill="#666" filter="url(#sp)"/>
<circle cx="105.99" cy="617.91" r="0.8" fill="#111" filter="url(#sp)"/>
<circle cx="155.39" cy="675.06" r="0.9" fill="#444" filter="url(#sp)"/>
<circle cx="136.88" cy="671.41" r="0.7" fill="#111" filter="url(#sp)"/>
<circle cx="150.86" cy="720.16" r="1.1" fill="#666" filter="url(#sp)"/>
<circle cx="141.64" cy="597.37" r="1.1" fill="#111" filter="url(#sp)"/>
<circle cx="148.3" cy="598.39" r="0.5" fill="#111" filter="url(#sp)"/>
<circle cx="94.03" cy="638.98" r="0.5" fill="#111" filter="url(#sp)"/>
<circle cx="217.69" cy="679.05" r="0.7" fill="#444" filter="url(#sp)"/>
<circle cx="230.67" cy="677.16" r="1.4" fill="#111" filter="url(#sp)"/>
<circle cx="96.26" cy="658.89" r="1.4" fill="#666" filter="url(#sp)"/>
<circle cx="155.21" cy="594.54" r="0.6" fill="#444" filter="url(#sp)"/>
</g>
<rect x="186.75" y="690.25" width="58.3" height="58.3" fill="#9a9a9a" stroke="#000" stroke-width="1.6"/>
<circle cx="219" cy="713" r="12.3" fill="#222" filter="url(#db1)"/>
<circle cx="219" cy="713" r="10.8" fill="#050505"/>
<circle cx="235" cy="724.5" r="2" fill="none" stroke="#666" stroke-width="0.8"/>
<rect x="230.5" y="740" width="13" height="4" fill="#000"/>
<clipPath id="dc1"><rect x="278.8" y="573.2" width="176" height="176"/></clipPath>
<radialGradient id="ig1" cx="0.47" cy="0.5" r="0.5"><stop offset="0" stop-color="#b8b8b8"/><stop offset="0.82" stop-color="#b8b8b8"/><stop offset="0.93" stop-color="#dedede"/><stop offset="1" stop-color="#c8c8c8"/></radialGradient>
<g clip-path="url(#dc1)">
<rect x="278.8" y="573.2" width="176" height="176" fill="#eeeeee"/>
<circle cx="278.8" cy="573.2" r="30" fill="#cfcfcf" filter="url(#db6)"/>
<circle cx="366.8" cy="660.7" r="101.5" fill="#fafafa"/>
<path d="M268.28,634.3 A102,102 0 0,1 352.6,559.69" fill="none" stroke="#111" stroke-width="2.4"/>
<path d="M264.89,633.39 A105.5,105.5 0 0,1 352.12,556.23" fill="none" stroke="#666" stroke-width="3.5" filter="url(#db1)"/>
<path d="M349.09,761.15 A102,102 0 0,1 268.28,687.1" fill="none" stroke="#111" stroke-width="2.4"/>
<path d="M348.48,764.6 A105.5,105.5 0 0,1 264.89,688.01" fill="none" stroke="#777" stroke-width="3.5" filter="url(#db1)"/>
<circle cx="366.8" cy="660.7" r="85.5" fill="#ebebeb" stroke="#8a8a8a" stroke-width="0.9"/>
<circle cx="364.3" cy="660.2" r="81" fill="url(#ig1)"/>
<path d="M331.22,584.39 A84.2,84.2 0 0,1 408.9,587.78" fill="none" stroke="#333" stroke-width="1.6" opacity="0.8"/>
<path d="M406.14,586.71 A83.8,83.8 0 0,1 345.11,741.64" fill="none" stroke="#1a1a1a" stroke-width="2.6" opacity="0.92"/>
<path d="M426.93,609.41 A79.8,79.8 0 0,1 393.09,735.69" fill="none" stroke="#555" stroke-width="1" opacity="0.6"/>
<path d="M403.3,726.38 A77,77 0 0,1 320.63,722.77" fill="none" stroke="#7a7a7a" stroke-width="6" opacity="0.55" filter="url(#db1)"/>
<path d="M315.3,709.2 A70,70 0 0,1 319.8,606.08" fill="none" stroke="#ffffff" stroke-width="8" opacity="0.35" filter="url(#db3)"/>
<ellipse cx="404.66" cy="713.13" rx="6" ry="3.5" fill="#ffffff" opacity="0.9" filter="url(#db3)"/>
<ellipse cx="388.29" cy="721.21" rx="6" ry="3.5" fill="#ffffff" opacity="0.9" filter="url(#db3)"/>
<ellipse cx="370.25" cy="724.61" rx="6" ry="3.5" fill="#ffffff" opacity="0.9" filter="url(#db3)"/>
<ellipse cx="351.95" cy="723.06" rx="6" ry="3.5" fill="#ffffff" opacity="0.9" filter="url(#db3)"/>
<ellipse cx="334.8" cy="716.68" rx="6" ry="3.5" fill="#ffffff" opacity="0.9" filter="url(#db3)"/>
<ellipse cx="320.13" cy="705.95" rx="6" ry="3.5" fill="#ffffff" opacity="0.9" filter="url(#db3)"/>
<ellipse cx="361.8" cy="710.7" rx="55" ry="14" fill="#ffffff" opacity="0.3" filter="url(#db6)"/>
<ellipse cx="376.8" cy="640.7" rx="50" ry="30" fill="#ffffff" opacity="0.12" filter="url(#db6)"/>
<rect x="441.8" y="653.7" width="13" height="12" fill="#f0f0f0" opacity="0.8"/>
<line x1="441.8" y1="653.7" x2="454.8" y2="653.7" stroke="#aaa" stroke-width="0.8"/>
<line x1="441.8" y1="665.7" x2="454.8" y2="665.7" stroke="#aaa" stroke-width="0.8"/>
</g>
<rect x="395.75" y="690.15" width="58.3" height="58.3" fill="#929292" stroke="#000" stroke-width="1.6"/>
<circle cx="419" cy="717.4" r="1.4" fill="#fff"/>
<rect x="439.5" y="739.9" width="13" height="4" fill="#000"/>
<clipPath id="dc2"><rect x="487" y="573.3" width="176" height="176"/></clipPath>
<radialGradient id="ig2" cx="0.53" cy="0.5" r="0.5"><stop offset="0" stop-color="#cfcfcf"/><stop offset="0.82" stop-color="#cfcfcf"/><stop offset="0.93" stop-color="#dedede"/><stop offset="1" stop-color="#c8c8c8"/></radialGradient>
<g clip-path="url(#dc2)">
<rect x="487" y="573.3" width="176" height="176" fill="#eeeeee"/>
<circle cx="663" cy="573.3" r="30" fill="#cfcfcf" filter="url(#db6)"/>
<circle cx="575" cy="660.8" r="101.5" fill="#fafafa"/>
<path d="M589.2,559.79 A102,102 0 0,1 673.52,634.4" fill="none" stroke="#111" stroke-width="2.4"/>
<path d="M589.68,556.33 A105.5,105.5 0 0,1 676.91,633.49" fill="none" stroke="#666" stroke-width="3.5" filter="url(#db1)"/>
<path d="M673.52,687.2 A102,102 0 0,1 592.71,761.25" fill="none" stroke="#111" stroke-width="2.4"/>
<path d="M676.91,688.11 A105.5,105.5 0 0,1 593.32,764.7" fill="none" stroke="#777" stroke-width="3.5" filter="url(#db1)"/>
<circle cx="575" cy="660.8" r="85.5" fill="#ebebeb" stroke="#8a8a8a" stroke-width="0.9"/>
<circle cx="572.5" cy="660.3" r="81" fill="url(#ig2)"/>
<path d="M539.42,584.49 A84.2,84.2 0 0,1 617.1,587.88" fill="none" stroke="#333" stroke-width="1.6" opacity="0.8"/>
<path d="M614.34,586.81 A83.8,83.8 0 0,1 553.31,741.74" fill="none" stroke="#1a1a1a" stroke-width="2.6" opacity="0.92"/>
<path d="M635.13,609.51 A79.8,79.8 0 0,1 601.29,735.79" fill="none" stroke="#555" stroke-width="1" opacity="0.6"/>
<path d="M611.5,726.48 A77,77 0 0,1 528.83,722.87" fill="none" stroke="#7a7a7a" stroke-width="6" opacity="0.55" filter="url(#db1)"/>
<path d="M523.5,709.3 A70,70 0 0,1 528,606.18" fill="none" stroke="#ffffff" stroke-width="8" opacity="0.35" filter="url(#db3)"/>
<ellipse cx="612.86" cy="713.23" rx="6" ry="3.5" fill="#ffffff" opacity="0.9" filter="url(#db3)"/>
<ellipse cx="596.49" cy="721.31" rx="6" ry="3.5" fill="#ffffff" opacity="0.9" filter="url(#db3)"/>
<ellipse cx="578.45" cy="724.71" rx="6" ry="3.5" fill="#ffffff" opacity="0.9" filter="url(#db3)"/>
<ellipse cx="560.15" cy="723.16" rx="6" ry="3.5" fill="#ffffff" opacity="0.9" filter="url(#db3)"/>
<ellipse cx="543" cy="716.78" rx="6" ry="3.5" fill="#ffffff" opacity="0.9" filter="url(#db3)"/>
<ellipse cx="528.33" cy="706.05" rx="6" ry="3.5" fill="#ffffff" opacity="0.9" filter="url(#db3)"/>
<ellipse cx="570" cy="710.8" rx="55" ry="14" fill="#ffffff" opacity="0.3" filter="url(#db6)"/>
<ellipse cx="585" cy="640.8" rx="50" ry="30" fill="#ffffff" opacity="0.12" filter="url(#db6)"/>
<rect x="528.5" y="573.3" width="3" height="176" fill="#ffffff" opacity="0.18" filter="url(#db1)"/>
<rect x="487" y="653.8" width="13" height="12" fill="#f0f0f0" opacity="0.8"/>
<line x1="487" y1="653.8" x2="500" y2="653.8" stroke="#aaa" stroke-width="0.8"/>
<line x1="487" y1="665.8" x2="500" y2="665.8" stroke="#aaa" stroke-width="0.8"/>
</g>
<rect x="603.95" y="690.25" width="58.3" height="58.3" fill="#929292" stroke="#000" stroke-width="1.6"/>
<circle cx="636.2" cy="715.5" r="1.6" fill="#fff" stroke="#666" stroke-width="0.5"/>
<circle cx="611.2" cy="707.5" r="1" fill="#eee"/>
<circle cx="618.2" cy="737.5" r="1" fill="#eee"/>
<rect x="647.7" y="740" width="13" height="4" fill="#000"/>
<clipPath id="dc3"><rect x="69.6" y="768.5" width="176" height="176"/></clipPath>
<radialGradient id="ig3" cx="0.47" cy="0.5" r="0.5"><stop offset="0" stop-color="#dadada"/><stop offset="0.82" stop-color="#dadada"/><stop offset="0.93" stop-color="#dedede"/><stop offset="1" stop-color="#c8c8c8"/></radialGradient>
<g clip-path="url(#dc3)">
<rect x="69.6" y="768.5" width="176" height="176" fill="#eeeeee"/>
<circle cx="69.6" cy="768.5" r="30" fill="#cfcfcf" filter="url(#db6)"/>
<circle cx="157.6" cy="856" r="101.5" fill="#fafafa"/>
<path d="M59.08,829.6 A102,102 0 0,1 143.4,754.99" fill="none" stroke="#111" stroke-width="2.4"/>
<path d="M55.69,828.69 A105.5,105.5 0 0,1 142.92,751.53" fill="none" stroke="#666" stroke-width="3.5" filter="url(#db1)"/>
<path d="M139.89,956.45 A102,102 0 0,1 59.08,882.4" fill="none" stroke="#111" stroke-width="2.4"/>
<path d="M139.28,959.9 A105.5,105.5 0 0,1 55.69,883.31" fill="none" stroke="#777" stroke-width="3.5" filter="url(#db1)"/>
<circle cx="157.6" cy="856" r="85.5" fill="#ebebeb" stroke="#8a8a8a" stroke-width="0.9"/>
<circle cx="155.1" cy="855.5" r="81" fill="url(#ig3)"/>
<path d="M122.02,779.69 A84.2,84.2 0 0,1 199.7,783.08" fill="none" stroke="#333" stroke-width="1.6" opacity="0.8"/>
<path d="M196.94,782.01 A83.8,83.8 0 0,1 135.91,936.94" fill="none" stroke="#1a1a1a" stroke-width="2.6" opacity="0.92"/>
<path d="M217.73,804.71 A79.8,79.8 0 0,1 183.89,930.99" fill="none" stroke="#555" stroke-width="1" opacity="0.6"/>
<path d="M194.1,921.68 A77,77 0 0,1 111.43,918.07" fill="none" stroke="#7a7a7a" stroke-width="6" opacity="0.55" filter="url(#db1)"/>
<path d="M106.1,904.5 A70,70 0 0,1 110.6,801.38" fill="none" stroke="#ffffff" stroke-width="8" opacity="0.35" filter="url(#db3)"/>
<ellipse cx="195.46" cy="908.43" rx="6" ry="3.5" fill="#ffffff" opacity="0.9" filter="url(#db3)"/>
<ellipse cx="179.09" cy="916.51" rx="6" ry="3.5" fill="#ffffff" opacity="0.9" filter="url(#db3)"/>
<ellipse cx="161.05" cy="919.91" rx="6" ry="3.5" fill="#ffffff" opacity="0.9" filter="url(#db3)"/>
<ellipse cx="142.75" cy="918.36" rx="6" ry="3.5" fill="#ffffff" opacity="0.9" filter="url(#db3)"/>
<ellipse cx="125.6" cy="911.98" rx="6" ry="3.5" fill="#ffffff" opacity="0.9" filter="url(#db3)"/>
<ellipse cx="110.93" cy="901.25" rx="6" ry="3.5" fill="#ffffff" opacity="0.9" filter="url(#db3)"/>
<ellipse cx="152.6" cy="906" rx="55" ry="14" fill="#ffffff" opacity="0.3" filter="url(#db6)"/>
<ellipse cx="167.6" cy="836" rx="50" ry="30" fill="#ffffff" opacity="0.12" filter="url(#db6)"/>
<rect x="232.6" y="849" width="13" height="12" fill="#f0f0f0" opacity="0.8"/>
<line x1="232.6" y1="849" x2="245.6" y2="849" stroke="#aaa" stroke-width="0.8"/>
<line x1="232.6" y1="861" x2="245.6" y2="861" stroke="#aaa" stroke-width="0.8"/>
<circle cx="169.02" cy="844.62" r="0.5" fill="#333" filter="url(#sp)"/>
<circle cx="151.61" cy="854.61" r="0.9" fill="#333" filter="url(#sp)"/>
<circle cx="83.1" cy="854.41" r="0.6" fill="#333" filter="url(#sp)"/>
<circle cx="135.39" cy="843.26" r="0.7" fill="#444" filter="url(#sp)"/>
<circle cx="138.66" cy="821.38" r="0.9" fill="#666" filter="url(#sp)"/>
<circle cx="105.55" cy="824.5" r="1" fill="#333" filter="url(#sp)"/>
<circle cx="150.71" cy="913.61" r="0.8" fill="#666" filter="url(#sp)"/>
<circle cx="175.73" cy="783.08" r="0.5" fill="#333" filter="url(#sp)"/>
<circle cx="126.06" cy="834.58" r="0.8" fill="#444" filter="url(#sp)"/>
<circle cx="184.27" cy="848.1" r="1.4" fill="#111" filter="url(#sp)"/>
<circle cx="182.08" cy="827.95" r="0.7" fill="#333" filter="url(#sp)"/>
<circle cx="174.67" cy="787.53" r="0.6" fill="#333" filter="url(#sp)"/>
<circle cx="139.11" cy="927.29" r="0.7" fill="#111" filter="url(#sp)"/>
<circle cx="148.25" cy="933.11" r="0.8" fill="#444" filter="url(#sp)"/>
<circle cx="146.92" cy="842.25" r="0.8" fill="#444" filter="url(#sp)"/>
<circle cx="100.56" cy="859.5" r="0.6" fill="#444" filter="url(#sp)"/>
<circle cx="150.52" cy="802.39" r="0.7" fill="#333" filter="url(#sp)"/>
<circle cx="154.42" cy="831.61" r="1.1" fill="#333" filter="url(#sp)"/>
<circle cx="130.67" cy="827.11" r="0.6" fill="#444" filter="url(#sp)"/>
<circle cx="149.29" cy="869.26" r="1.1" fill="#666" filter="url(#sp)"/>
<circle cx="185.34" cy="814.63" r="0.9" fill="#666" filter="url(#sp)"/>
<circle cx="173.94" cy="786.04" r="1.4" fill="#666" filter="url(#sp)"/>
<circle cx="164.21" cy="831.88" r="1.1" fill="#666" filter="url(#sp)"/>
<circle cx="189.88" cy="865.4" r="0.6" fill="#666" filter="url(#sp)"/>
<circle cx="147.77" cy="786.39" r="1" fill="#111" filter="url(#sp)"/>
<circle cx="101.92" cy="873.32" r="1.4" fill="#333" filter="url(#sp)"/>
<circle cx="150.98" cy="845.84" r="1.4" fill="#444" filter="url(#sp)"/>
<circle cx="189.26" cy="843.73" r="0.7" fill="#333" filter="url(#sp)"/>
<circle cx="169.65" cy="876.55" r="0.5" fill="#111" filter="url(#sp)"/>
<circle cx="231.58" cy="845.66" r="0.8" fill="#444" filter="url(#sp)"/>
<circle cx="123.28" cy="883.2" r="0.7" fill="#444" filter="url(#sp)"/>
<circle cx="172.82" cy="923.13" r="0.8" fill="#444" filter="url(#sp)"/>
<circle cx="106.81" cy="870.64" r="1.1" fill="#333" filter="url(#sp)"/>
<circle cx="149.22" cy="894.95" r="0.8" fill="#444" filter="url(#sp)"/>
<circle cx="173.2" cy="794.55" r="0.5" fill="#333" filter="url(#sp)"/>
<circle cx="145.42" cy="841.35" r="1.1" fill="#333" filter="url(#sp)"/>
<circle cx="88.83" cy="843.76" r="0.6" fill="#111" filter="url(#sp)"/>
<circle cx="133.28" cy="833.64" r="1.1" fill="#333" filter="url(#sp)"/>
<circle cx="178.21" cy="821.2" r="0.9" fill="#666" filter="url(#sp)"/>
<circle cx="158.8" cy="818.18" r="1.4" fill="#444" filter="url(#sp)"/>
<circle cx="133.44" cy="820.33" r="1.4" fill="#666" filter="url(#sp)"/>
<circle cx="171.55" cy="789.43" r="1" fill="#666" filter="url(#sp)"/>
<circle cx="174.07" cy="842.52" r="0.6" fill="#444" filter="url(#sp)"/>
<circle cx="129.14" cy="894.47" r="1" fill="#444" filter="url(#sp)"/>
<circle cx="174.52" cy="814.54" r="0.9" fill="#111" filter="url(#sp)"/>
<circle cx="166.58" cy="906.74" r="0.5" fill="#333" filter="url(#sp)"/>
<circle cx="168.8" cy="787.82" r="1.1" fill="#333" filter="url(#sp)"/>
<circle cx="172.55" cy="838.8" r="1" fill="#333" filter="url(#sp)"/>
<circle cx="161.25" cy="905.57" r="1" fill="#111" filter="url(#sp)"/>
<circle cx="182.82" cy="868.52" r="0.5" fill="#444" filter="url(#sp)"/>
<circle cx="215.16" cy="839.52" r="0.7" fill="#333" filter="url(#sp)"/>
<circle cx="96.39" cy="902.29" r="1" fill="#333" filter="url(#sp)"/>
<circle cx="159.38" cy="831.9" r="1.1" fill="#666" filter="url(#sp)"/>
<circle cx="170.06" cy="831.63" r="0.7" fill="#666" filter="url(#sp)"/>
<circle cx="190.64" cy="873.58" r="1.4" fill="#333" filter="url(#sp)"/>
<circle cx="134.21" cy="843.77" r="1" fill="#666" filter="url(#sp)"/>
<circle cx="139.72" cy="791.53" r="0.7" fill="#111" filter="url(#sp)"/>
<circle cx="179.02" cy="867.2" r="1" fill="#666" filter="url(#sp)"/>
<circle cx="231.24" cy="872.86" r="0.7" fill="#444" filter="url(#sp)"/>
<circle cx="170.4" cy="791.94" r="1" fill="#333" filter="url(#sp)"/>
<circle cx="126.02" cy="912.05" r="1.1" fill="#666" filter="url(#sp)"/>
<circle cx="156.27" cy="802.94" r="1.4" fill="#444" filter="url(#sp)"/>
<circle cx="218.34" cy="869.02" r="1.1" fill="#333" filter="url(#sp)"/>
<circle cx="159.74" cy="918.39" r="1.1" fill="#111" filter="url(#sp)"/>
<circle cx="141.06" cy="906.11" r="0.8" fill="#111" filter="url(#sp)"/>
<circle cx="145.22" cy="878.21" r="0.9" fill="#111" filter="url(#sp)"/>
<circle cx="132.89" cy="921.15" r="1.4" fill="#333" filter="url(#sp)"/>
<circle cx="102.89" cy="884.33" r="0.8" fill="#111" filter="url(#sp)"/>
<circle cx="159.25" cy="897.92" r="0.6" fill="#666" filter="url(#sp)"/>
<circle cx="170.84" cy="821.97" r="0.6" fill="#333" filter="url(#sp)"/>
<circle cx="177.19" cy="865.3" r="0.5" fill="#111" filter="url(#sp)"/>
<circle cx="141.63" cy="781" r="1.1" fill="#444" filter="url(#sp)"/>
<circle cx="211.02" cy="804.51" r="0.5" fill="#444" filter="url(#sp)"/>
<circle cx="129.51" cy="852.18" r="0.7" fill="#111" filter="url(#sp)"/>
<circle cx="110.49" cy="822.27" r="0.8" fill="#333" filter="url(#sp)"/>
<circle cx="222.59" cy="837.81" r="1.1" fill="#111" filter="url(#sp)"/>
<circle cx="200.4" cy="804.46" r="1.1" fill="#111" filter="url(#sp)"/>
<circle cx="183.47" cy="875.86" r="0.5" fill="#333" filter="url(#sp)"/>
<circle cx="86.04" cy="836.21" r="1.4" fill="#666" filter="url(#sp)"/>
<circle cx="177.99" cy="854.21" r="1" fill="#111" filter="url(#sp)"/>
<circle cx="99.85" cy="816.51" r="0.6" fill="#666" filter="url(#sp)"/>
<circle cx="223.15" cy="825.36" r="0.6" fill="#111" filter="url(#sp)"/>
<circle cx="123.64" cy="874.93" r="1" fill="#111" filter="url(#sp)"/>
<circle cx="169.73" cy="877.63" r="1.1" fill="#333" filter="url(#sp)"/>
<circle cx="191.69" cy="877.42" r="0.5" fill="#333" filter="url(#sp)"/>
</g>
<rect x="186.55" y="885.45" width="58.3" height="58.3" fill="#9e9e9e" stroke="#000" stroke-width="1.6"/>
<circle cx="212.8" cy="908.7" r="9" fill="#555" opacity="0.5" filter="url(#db3)"/>
<circle cx="212.8" cy="908.7" r="4.8" fill="#151515" filter="url(#db1)"/>
<circle cx="206.05" cy="912.89" r="0.5" fill="#333"/>
<circle cx="212.94" cy="921.62" r="0.6" fill="#eee"/>
<circle cx="202.76" cy="916.86" r="0.8" fill="#333"/>
<circle cx="223.34" cy="904.83" r="0.6" fill="#eee"/>
<circle cx="206.45" cy="903.77" r="0.6" fill="#555"/>
<circle cx="218.18" cy="902.96" r="0.6" fill="#eee"/>
<circle cx="218.08" cy="918.63" r="0.5" fill="#eee"/>
<circle cx="198.52" cy="906.36" r="0.6" fill="#555"/>
<circle cx="205.46" cy="913.33" r="0.5" fill="#555"/>
<circle cx="217.64" cy="923.26" r="0.8" fill="#333"/>
<circle cx="197.35" cy="912.08" r="0.8" fill="#555"/>
<circle cx="222.63" cy="907.4" r="0.5" fill="#eee"/>
<circle cx="220.62" cy="919.91" r="0.8" fill="#333"/>
<circle cx="225.25" cy="904.58" r="0.5" fill="#333"/>
<circle cx="223.89" cy="910.17" r="0.6" fill="#333"/>
<circle cx="224.74" cy="904.18" r="0.5" fill="#555"/>
<circle cx="205.26" cy="902.53" r="0.5" fill="#eee"/>
<circle cx="199.63" cy="916.72" r="0.5" fill="#eee"/>
<circle cx="214.92" cy="916.42" r="0.6" fill="#333"/>
<circle cx="204.52" cy="918.46" r="0.5" fill="#333"/>
<circle cx="211.8" cy="896.22" r="0.8" fill="#333"/>
<circle cx="204.63" cy="902.77" r="0.5" fill="#333"/>
<circle cx="217.7" cy="914.29" r="0.5" fill="#555"/>
<circle cx="217.86" cy="914.61" r="0.8" fill="#555"/>
<circle cx="214.7" cy="895.51" r="0.6" fill="#333"/>
<circle cx="219.06" cy="901.7" r="0.8" fill="#333"/>
<circle cx="206.68" cy="908.66" r="0.5" fill="#555"/>
<circle cx="214.98" cy="917.84" r="0.6" fill="#555"/>
<circle cx="204.15" cy="913.36" r="0.5" fill="#333"/>
<circle cx="224.55" cy="898.72" r="0.8" fill="#555"/>
<circle cx="213.91" cy="901.09" r="0.8" fill="#333"/>
<circle cx="207.43" cy="901.74" r="0.8" fill="#eee"/>
<circle cx="207.17" cy="920.63" r="0.8" fill="#eee"/>
<circle cx="210.36" cy="899.77" r="0.6" fill="#333"/>
<circle cx="220.66" cy="902.26" r="0.6" fill="#333"/>
<circle cx="196.82" cy="908.42" r="0.6" fill="#555"/>
<circle cx="196.92" cy="905.67" r="0.6" fill="#555"/>
<circle cx="220.53" cy="902.3" r="0.8" fill="#eee"/>
<circle cx="218.28" cy="916.41" r="0.8" fill="#eee"/>
<circle cx="221.13" cy="899.95" r="0.8" fill="#555"/>
<rect x="230.3" y="935.2" width="13" height="4" fill="#000"/>
<clipPath id="dc4"><rect x="278.6" y="768.3" width="176" height="176"/></clipPath>
<radialGradient id="ig4" cx="0.53" cy="0.5" r="0.5"><stop offset="0" stop-color="#d4d4d4"/><stop offset="0.82" stop-color="#d4d4d4"/><stop offset="0.93" stop-color="#dedede"/><stop offset="1" stop-color="#c8c8c8"/></radialGradient>
<g clip-path="url(#dc4)">
<rect x="278.6" y="768.3" width="176" height="176" fill="#eeeeee"/>
<circle cx="454.6" cy="768.3" r="30" fill="#cfcfcf" filter="url(#db6)"/>
<circle cx="366.6" cy="855.8" r="101.5" fill="#fafafa"/>
<path d="M380.8,754.79 A102,102 0 0,1 465.12,829.4" fill="none" stroke="#111" stroke-width="2.4"/>
<path d="M381.28,751.33 A105.5,105.5 0 0,1 468.51,828.49" fill="none" stroke="#666" stroke-width="3.5" filter="url(#db1)"/>
<path d="M465.12,882.2 A102,102 0 0,1 384.31,956.25" fill="none" stroke="#111" stroke-width="2.4"/>
<path d="M468.51,883.11 A105.5,105.5 0 0,1 384.92,959.7" fill="none" stroke="#777" stroke-width="3.5" filter="url(#db1)"/>
<circle cx="366.6" cy="855.8" r="85.5" fill="#ebebeb" stroke="#8a8a8a" stroke-width="0.9"/>
<circle cx="364.1" cy="855.3" r="81" fill="url(#ig4)"/>
<path d="M331.02,779.49 A84.2,84.2 0 0,1 408.7,782.88" fill="none" stroke="#333" stroke-width="1.6" opacity="0.8"/>
<path d="M405.94,781.81 A83.8,83.8 0 0,1 344.91,936.74" fill="none" stroke="#1a1a1a" stroke-width="2.6" opacity="0.92"/>
<path d="M426.73,804.51 A79.8,79.8 0 0,1 392.89,930.79" fill="none" stroke="#555" stroke-width="1" opacity="0.6"/>
<path d="M403.1,921.48 A77,77 0 0,1 320.43,917.87" fill="none" stroke="#7a7a7a" stroke-width="6" opacity="0.55" filter="url(#db1)"/>
<path d="M315.1,904.3 A70,70 0 0,1 319.6,801.18" fill="none" stroke="#ffffff" stroke-width="8" opacity="0.35" filter="url(#db3)"/>
<ellipse cx="404.46" cy="908.23" rx="6" ry="3.5" fill="#ffffff" opacity="0.9" filter="url(#db3)"/>
<ellipse cx="388.09" cy="916.31" rx="6" ry="3.5" fill="#ffffff" opacity="0.9" filter="url(#db3)"/>
<ellipse cx="370.05" cy="919.71" rx="6" ry="3.5" fill="#ffffff" opacity="0.9" filter="url(#db3)"/>
<ellipse cx="351.75" cy="918.16" rx="6" ry="3.5" fill="#ffffff" opacity="0.9" filter="url(#db3)"/>
<ellipse cx="334.6" cy="911.78" rx="6" ry="3.5" fill="#ffffff" opacity="0.9" filter="url(#db3)"/>
<ellipse cx="319.93" cy="901.05" rx="6" ry="3.5" fill="#ffffff" opacity="0.9" filter="url(#db3)"/>
<ellipse cx="361.6" cy="905.8" rx="55" ry="14" fill="#ffffff" opacity="0.3" filter="url(#db6)"/>
<ellipse cx="376.6" cy="835.8" rx="50" ry="30" fill="#ffffff" opacity="0.12" filter="url(#db6)"/>
<rect x="319.5" y="768.3" width="3" height="176" fill="#ffffff" opacity="0.18" filter="url(#db1)"/>
<rect x="278.6" y="848.8" width="13" height="12" fill="#f0f0f0" opacity="0.8"/>
<line x1="278.6" y1="848.8" x2="291.6" y2="848.8" stroke="#aaa" stroke-width="0.8"/>
<line x1="278.6" y1="860.8" x2="291.6" y2="860.8" stroke="#aaa" stroke-width="0.8"/>
</g>
<rect x="395.55" y="885.25" width="58.3" height="58.3" fill="#929292" stroke="#000" stroke-width="1.6"/>
<circle cx="418.8" cy="912.5" r="1.4" fill="#fff"/>
<rect x="439.3" y="935" width="13" height="4" fill="#000"/>
<clipPath id="dc5"><rect x="487" y="768.3" width="176" height="176"/></clipPath>
<radialGradient id="ig5" cx="0.47" cy="0.5" r="0.5"><stop offset="0" stop-color="#d2d2d2"/><stop offset="0.82" stop-color="#d2d2d2"/><stop offset="0.93" stop-color="#dedede"/><stop offset="1" stop-color="#c8c8c8"/></radialGradient>
<g clip-path="url(#dc5)">
<rect x="487" y="768.3" width="176" height="176" fill="#eeeeee"/>
<circle cx="487" cy="768.3" r="30" fill="#cfcfcf" filter="url(#db6)"/>
<circle cx="575" cy="855.8" r="101.5" fill="#fafafa"/>
<path d="M476.48,829.4 A102,102 0 0,1 560.8,754.79" fill="none" stroke="#111" stroke-width="2.4"/>
<path d="M473.09,828.49 A105.5,105.5 0 0,1 560.32,751.33" fill="none" stroke="#666" stroke-width="3.5" filter="url(#db1)"/>
<path d="M557.29,956.25 A102,102 0 0,1 476.48,882.2" fill="none" stroke="#111" stroke-width="2.4"/>
<path d="M556.68,959.7 A105.5,105.5 0 0,1 473.09,883.11" fill="none" stroke="#777" stroke-width="3.5" filter="url(#db1)"/>
<circle cx="575" cy="855.8" r="85.5" fill="#ebebeb" stroke="#8a8a8a" stroke-width="0.9"/>
<circle cx="572.5" cy="855.3" r="81" fill="url(#ig5)"/>
<path d="M539.42,779.49 A84.2,84.2 0 0,1 617.1,782.88" fill="none" stroke="#333" stroke-width="1.6" opacity="0.8"/>
<path d="M614.34,781.81 A83.8,83.8 0 0,1 553.31,936.74" fill="none" stroke="#1a1a1a" stroke-width="2.6" opacity="0.92"/>
<path d="M635.13,804.51 A79.8,79.8 0 0,1 601.29,930.79" fill="none" stroke="#555" stroke-width="1" opacity="0.6"/>
<path d="M611.5,921.48 A77,77 0 0,1 528.83,917.87" fill="none" stroke="#7a7a7a" stroke-width="6" opacity="0.55" filter="url(#db1)"/>
<path d="M523.5,904.3 A70,70 0 0,1 528,801.18" fill="none" stroke="#ffffff" stroke-width="8" opacity="0.35" filter="url(#db3)"/>
<ellipse cx="612.86" cy="908.23" rx="6" ry="3.5" fill="#ffffff" opacity="0.9" filter="url(#db3)"/>
<ellipse cx="596.49" cy="916.31" rx="6" ry="3.5" fill="#ffffff" opacity="0.9" filter="url(#db3)"/>
<ellipse cx="578.45" cy="919.71" rx="6" ry="3.5" fill="#ffffff" opacity="0.9" filter="url(#db3)"/>
<ellipse cx="560.15" cy="918.16" rx="6" ry="3.5" fill="#ffffff" opacity="0.9" filter="url(#db3)"/>
<ellipse cx="543" cy="911.78" rx="6" ry="3.5" fill="#ffffff" opacity="0.9" filter="url(#db3)"/>
<ellipse cx="528.33" cy="901.05" rx="6" ry="3.5" fill="#ffffff" opacity="0.9" filter="url(#db3)"/>
<ellipse cx="570" cy="905.8" rx="55" ry="14" fill="#ffffff" opacity="0.3" filter="url(#db6)"/>
<ellipse cx="585" cy="835.8" rx="50" ry="30" fill="#ffffff" opacity="0.12" filter="url(#db6)"/>
<rect x="650" y="848.8" width="13" height="12" fill="#f0f0f0" opacity="0.8"/>
<line x1="650" y1="848.8" x2="663" y2="848.8" stroke="#aaa" stroke-width="0.8"/>
<line x1="650" y1="860.8" x2="663" y2="860.8" stroke="#aaa" stroke-width="0.8"/>
</g>
<rect x="603.95" y="885.25" width="58.3" height="58.3" fill="#929292" stroke="#000" stroke-width="1.6"/>
<circle cx="627.2" cy="912.5" r="1.4" fill="#fff"/>
<rect x="647.7" y="935" width="13" height="4" fill="#000"/>
<text transform="translate(4,974) scale(1,1.08)" font-size="28" font-weight="bold" text-anchor="start" fill="#000" stroke="#000" stroke-width="0.4">E</text>
<text x="211.6" y="966.2" font-size="16" font-weight="bold" text-anchor="middle" fill="#000" >U87</text>
<line x1="112.8" y1="974.2" x2="310.5" y2="974.2" stroke="#000" stroke-width="1.5" />
<text transform="translate(92.4,1088.7) rotate(-90)" font-size="16.3" font-weight="bold" text-anchor="middle" fill="#000" >Colony Formation Number</text>
<text transform="translate(110.8,1084.9) rotate(-90)" font-size="16" font-weight="bold" text-anchor="middle" fill="#000" >/ 1000 Cells</text>
<line x1="141.8" y1="1013.05" x2="141.8" y2="1161.15" stroke="#000" stroke-width="1.5" />
<line x1="136.6" y1="1160.4" x2="141.8" y2="1160.4" stroke="#000" stroke-width="1.5" />
<text x="132.9" y="1166.7" font-size="12.8" font-weight="normal" text-anchor="end" fill="#111" >0</text>
<line x1="136.6" y1="1123.75" x2="141.8" y2="1123.75" stroke="#000" stroke-width="1.5" />
<text x="132.9" y="1130.05" font-size="12.8" font-weight="normal" text-anchor="end" fill="#111" >20</text>
<line x1="136.6" y1="1087.1" x2="141.8" y2="1087.1" stroke="#000" stroke-width="1.5" />
<text x="132.9" y="1093.4" font-size="12.8" font-weight="normal" text-anchor="end" fill="#111" >40</text>
<line x1="136.6" y1="1050.45" x2="141.8" y2="1050.45" stroke="#000" stroke-width="1.5" />
<text x="132.9" y="1056.75" font-size="12.8" font-weight="normal" text-anchor="end" fill="#111" >60</text>
<line x1="136.6" y1="1013.8" x2="141.8" y2="1013.8" stroke="#000" stroke-width="1.5" />
<text x="132.9" y="1020.1" font-size="12.8" font-weight="normal" text-anchor="end" fill="#111" >80</text>
<line x1="141.05" y1="1160.4" x2="310.1" y2="1160.4" stroke="#000" stroke-width="1.5" />
<line x1="169.4" y1="1160.4" x2="169.4" y2="1165.4" stroke="#000" stroke-width="1.5" />
<line x1="225.5" y1="1160.4" x2="225.5" y2="1165.4" stroke="#000" stroke-width="1.5" />
<line x1="281.6" y1="1160.4" x2="281.6" y2="1165.4" stroke="#000" stroke-width="1.5" />
<rect x="155.4" y="1053.75" width="28" height="106.65" fill="#fff" stroke="#000" stroke-width="1.5"/>
<rect x="211.5" y="1150.15" width="28.3" height="10.25" fill="#fff" stroke="#000" stroke-width="1.5"/>
<rect x="267.6" y="1150.15" width="27.8" height="10.25" fill="#fff" stroke="#000" stroke-width="1.5"/>
<line x1="169.4" y1="1053" x2="169.4" y2="1038.5" stroke="#000" stroke-width="1.5" />
<line x1="161.9" y1="1038.5" x2="176.9" y2="1038.5" stroke="#000" stroke-width="1.5" />
<line x1="225.5" y1="1149.4" x2="225.5" y2="1139.6" stroke="#000" stroke-width="1.5" />
<line x1="218" y1="1139.6" x2="233" y2="1139.6" stroke="#000" stroke-width="1.5" />
<line x1="281.6" y1="1149.4" x2="281.6" y2="1141" stroke="#000" stroke-width="1.5" />
<line x1="274.1" y1="1141" x2="289.1" y2="1141" stroke="#000" stroke-width="1.5" />
<polyline points="169.4,1028 169.4,998 281.6,998 281.6,1131.2" fill="none" stroke="#000" stroke-width="1.5" />
<polyline points="169.4,1016 225.5,1016 225.5,1131.2" fill="none" stroke="#000" stroke-width="1.5" />
<polygon points="192.1,1005.1 192.89,1007.01 194.95,1007.17 193.38,1008.52 193.86,1010.53 192.1,1009.45 190.34,1010.53 190.82,1008.52 189.25,1007.17 191.31,1007.01" fill="#111"/>
<polygon points="198.2,1005.1 198.99,1007.01 201.05,1007.17 199.48,1008.52 199.96,1010.53 198.2,1009.45 196.44,1010.53 196.92,1008.52 195.35,1007.17 197.41,1007.01" fill="#111"/>
<polygon points="204.3,1005.1 205.09,1007.01 207.15,1007.17 205.58,1008.52 206.06,1010.53 204.3,1009.45 202.54,1010.53 203.02,1008.52 201.45,1007.17 203.51,1007.01" fill="#111"/>
<polygon points="219.5,987.4 220.29,989.31 222.35,989.47 220.78,990.82 221.26,992.83 219.5,991.75 217.74,992.83 218.22,990.82 216.65,989.47 218.71,989.31" fill="#111"/>
<polygon points="225.6,987.4 226.39,989.31 228.45,989.47 226.88,990.82 227.36,992.83 225.6,991.75 223.84,992.83 224.32,990.82 222.75,989.47 224.81,989.31" fill="#111"/>
<polygon points="231.7,987.4 232.49,989.31 234.55,989.47 232.98,990.82 233.46,992.83 231.7,991.75 229.94,992.83 230.42,990.82 228.85,989.47 230.91,989.31" fill="#111"/>
<text transform="translate(175.1,1171.5) rotate(-45)" font-size="16" font-weight="normal" text-anchor="end" fill="#111" >shCon</text>
<text transform="translate(235.1,1174.1) rotate(-45)" font-size="16" font-weight="normal" text-anchor="end" fill="#111" >shArs2-1#</text>
<text transform="translate(288.7,1175.9) rotate(-45)" font-size="16" font-weight="normal" text-anchor="end" fill="#111" >shArs2-2#</text>
<text x="540.4" y="966.2" font-size="16" font-weight="bold" text-anchor="middle" fill="#000" >LN229</text>
<line x1="435.1" y1="974.2" x2="644.3" y2="974.2" stroke="#000" stroke-width="1.5" />
<text transform="translate(413.6,1090.2) rotate(-90)" font-size="16.3" font-weight="bold" text-anchor="middle" fill="#000" >Colony Formation Number</text>
<text transform="translate(434,1086.7) rotate(-90)" font-size="16" font-weight="bold" text-anchor="middle" fill="#000" >/ 1000 Cells</text>
<line x1="470.9" y1="1015.65" x2="470.9" y2="1163.75" stroke="#000" stroke-width="1.5" />
<line x1="465.7" y1="1163" x2="470.9" y2="1163" stroke="#000" stroke-width="1.5" />
<text x="462" y="1169.3" font-size="12.8" font-weight="normal" text-anchor="end" fill="#111" >0</text>
<line x1="465.7" y1="1114.13" x2="470.9" y2="1114.13" stroke="#000" stroke-width="1.5" />
<text x="462" y="1120.43" font-size="12.8" font-weight="normal" text-anchor="end" fill="#111" >50</text>
<line x1="465.7" y1="1065.27" x2="470.9" y2="1065.27" stroke="#000" stroke-width="1.5" />
<text x="462" y="1071.57" font-size="12.8" font-weight="normal" text-anchor="end" fill="#111" >100</text>
<line x1="465.7" y1="1016.4" x2="470.9" y2="1016.4" stroke="#000" stroke-width="1.5" />
<text x="462" y="1022.7" font-size="12.8" font-weight="normal" text-anchor="end" fill="#111" >150</text>
<line x1="470.15" y1="1163" x2="641.6" y2="1163" stroke="#000" stroke-width="1.5" />
<line x1="500" y1="1163" x2="500" y2="1168" stroke="#000" stroke-width="1.5" />
<line x1="556.3" y1="1163" x2="556.3" y2="1168" stroke="#000" stroke-width="1.5" />
<line x1="613" y1="1163" x2="613" y2="1168" stroke="#000" stroke-width="1.5" />
<rect x="485.8" y="1073.9" width="28.1" height="89.1" fill="#fff" stroke="#000" stroke-width="1.5"/>
<rect x="542.3" y="1156.6" width="28.1" height="6.4" fill="#fff" stroke="#000" stroke-width="1.5"/>
<rect x="598.7" y="1155.1" width="28.4" height="7.9" fill="#fff" stroke="#000" stroke-width="1.5"/>
<line x1="499.9" y1="1073.15" x2="499.9" y2="1039.7" stroke="#000" stroke-width="1.5" />
<line x1="492.4" y1="1039.7" x2="507.4" y2="1039.7" stroke="#000" stroke-width="1.5" />
<line x1="556.3" y1="1155.85" x2="556.3" y2="1151.6" stroke="#000" stroke-width="1.5" />
<line x1="548.8" y1="1151.6" x2="563.8" y2="1151.6" stroke="#000" stroke-width="1.5" />
<line x1="612.9" y1="1154.35" x2="612.9" y2="1149" stroke="#000" stroke-width="1.5" />
<line x1="605.4" y1="1149" x2="620.4" y2="1149" stroke="#000" stroke-width="1.5" />
<polyline points="500,1033.3 500,998.1 613,998.1 613,1134.8" fill="none" stroke="#000" stroke-width="1.5" />
<polyline points="500,1015.9 556.3,1015.9 556.3,1139.6" fill="none" stroke="#000" stroke-width="1.5" />
<polygon points="523.95,1005.1 524.74,1007.01 526.8,1007.17 525.23,1008.52 525.71,1010.53 523.95,1009.45 522.19,1010.53 522.67,1008.52 521.1,1007.17 523.16,1007.01" fill="#111"/>
<polygon points="530.05,1005.1 530.84,1007.01 532.9,1007.17 531.33,1008.52 531.81,1010.53 530.05,1009.45 528.29,1010.53 528.77,1008.52 527.2,1007.17 529.26,1007.01" fill="#111"/>
<polygon points="554.55,987.5 555.34,989.41 557.4,989.57 555.83,990.92 556.31,992.93 554.55,991.85 552.79,992.93 553.27,990.92 551.7,989.57 553.76,989.41" fill="#111"/>
<polygon points="560.65,987.5 561.44,989.41 563.5,989.57 561.93,990.92 562.41,992.93 560.65,991.85 558.89,992.93 559.37,990.92 557.8,989.57 559.86,989.41" fill="#111"/>
<text transform="translate(508.7,1175.5) rotate(-45)" font-size="16" font-weight="normal" text-anchor="end" fill="#111" >shCon</text>
<text transform="translate(564.7,1178.1) rotate(-45)" font-size="16" font-weight="normal" text-anchor="end" fill="#111" >shArs2-1#</text>
<text transform="translate(620.1,1178.5) rotate(-45)" font-size="16" font-weight="normal" text-anchor="end" fill="#111" >shArs2-2#</text>
</svg></body></html>
